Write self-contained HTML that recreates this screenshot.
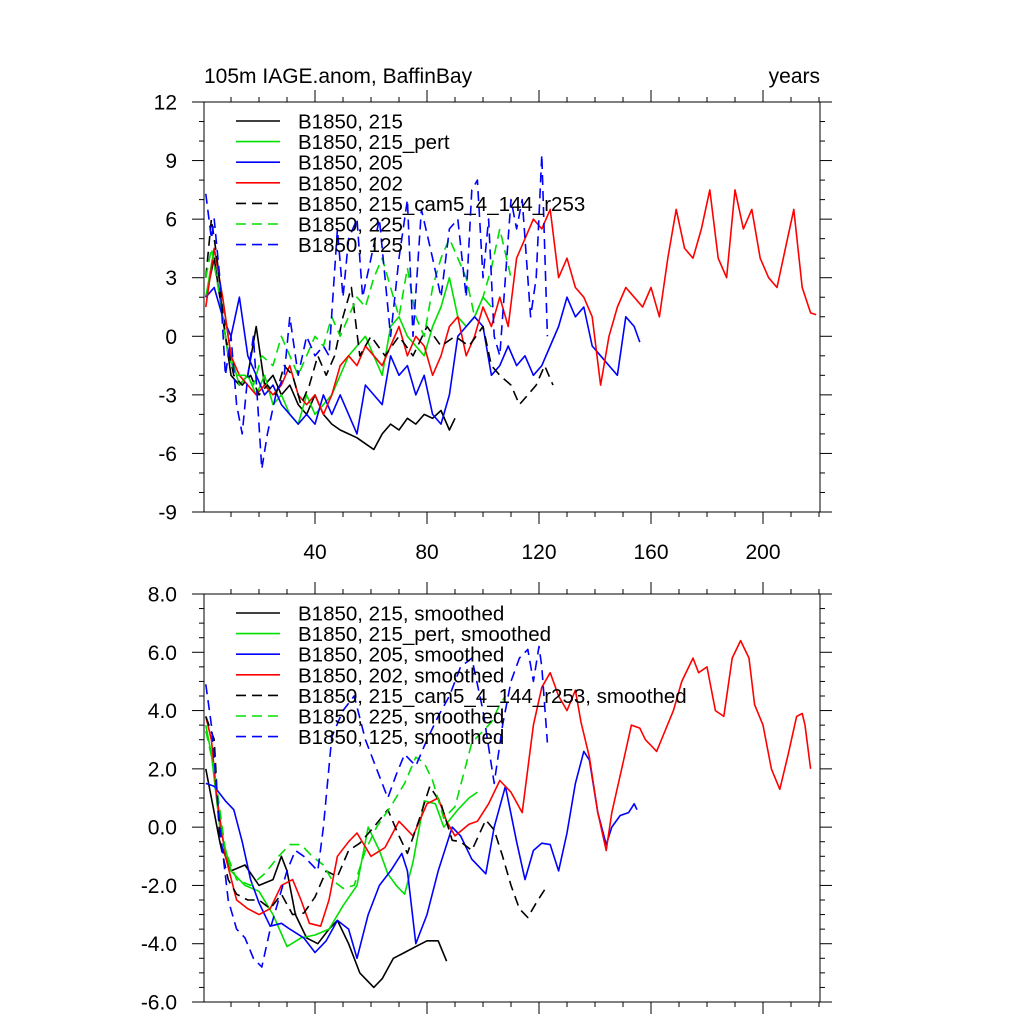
<!DOCTYPE html>
<html><head><meta charset="utf-8"><style>
html,body{margin:0;padding:0;background:#fff;}
svg{display:block;font-family:"Liberation Sans",sans-serif;}
</style></head><body>
<svg id="chart" width="1024" height="1024" viewBox="0 0 1024 1024" xmlns="http://www.w3.org/2000/svg">
<text x="204" y="83" font-size="21">105m IAGE.anom, BaffinBay</text>
<text x="820" y="83" font-size="21" text-anchor="end">years</text>
</svg>
<script>
// ---- top panel data ----
const topBlackYears=[1,4,7,10,13,16,19,22,25,28,31,34,37,40,43,46,49,52,55,58,61,64,67,70,73,76,79,82,85,88,90];
const topBlackVals=[2,4,1,-2,-2.5,-2,0.5,-2.5,-2,-3,-2.5,-3.5,-4,-3,-4,-4.5,-4.8,-5,-5.2,-5.5,-5.8,-5,-4.5,-4.8,-4.2,-4.5,-4,-4.2,-3.8,-4.8,-4.2];
const topGreenYears=[1,4,7,10,13,16,19,22,25,28,31,34,37,40,43,46,49,52,55,58,61,64,67,70,73,76,79,82,85,88,91,94,97,100,103];
const topGreenVals=[2,4.5,2,-1,-2.5,-2,-3,-2,-3.5,-3,-4,-4.5,-3,-4,-3.5,-3,-2,-1,-0.5,0,-1,-2,0.5,1,0,-0.5,-1,0.5,1.5,3,1,0.5,1,2,1.5];
const topBlueYears=[1,4,7,10,13,16,19,22,25,28,31,34,37,40,43,46,49,52,55,58,61,64,67,70,73,76,79,82,85,88,91,94,97,100,103,106,109,112,115,118,121,124,127,130,133,136,139,142,145,148,151,154,156];
const topBlueVals=[2,2.5,1,0,2,-1,-2,-3,-2.5,-3.5,-4,-4.5,-4,-4.5,-3,-4,-3,-4,-5,-2.5,-3,-3.5,-1,-2,-1.5,-3,-2,-4,-4.5,-3,0,0.5,1,0.5,-2,-1.5,-0.5,-1.5,-1,-2,-1.5,-0.5,0.5,2,1,1.5,-0.5,-1,-1.5,-2,1,0.5,-0.3];
const topRedYears=[1,4,7,10,13,16,19,22,25,28,31,34,37,40,43,46,49,52,55,58,61,64,67,70,73,76,79,82,85,88,91,94,97,100,103,106,109,112,115,118,121,124,127,130,133,136,139,142,145,148,151,154,157,160,163,166,169,172,175,178,181,184,187,190,193,196,199,202,205,208,211,214,217,219];
const topRedVals=[1.5,4.5,2,-1,-2,-2.5,-3,-2.5,-3,-2.5,-1.5,-3,-3.5,-3,-4,-3,-1.5,-1,-1.5,-0.5,-1,-1.5,-0.5,0.5,-1,0,-0.5,-2,-1,0.5,1,-1,0,1.5,0.5,2,0.5,4,5,6,5.5,6.5,3,4,2.5,2,1,-2.5,0,1.5,2.5,2,1.5,2.5,1,4,6.5,4.5,4,5.5,7.5,4,3,7.5,5.5,6.5,4,3,2.5,4.5,6.5,2.5,1.2,1.1];
const topBlackDashYears=[1,3,5,8,11,14,17,20,23,26,29,32,35,38,41,44,47,50,53,56,60,65,70,75,80,85,90,95,100,103,106,110,113,116,119,122,125];
const topBlackDashVals=[3,6,4,0,-2,-2.5,-2,-3,-2.5,-3,-1.5,-2,-3.5,-2.5,-1,-2,-1,1,2.5,-1,0,-1,0,-1,0.5,-0.5,0,-0.5,0.5,-1.5,-2,-2.5,-3.5,-3,-2.5,-1.5,-2.5];
const topGreenDashYears=[1,3,6,9,12,15,18,21,25,28,31,34,37,40,43,46,49,52,55,58,61,64,67,70,73,76,79,82,85,88,91,94,97,100,103,106,110];
const topGreenDashVals=[3,4.5,2,-1,-2,-2,-2.5,-1,-1.5,0,-1,-2,-1,0,-0.5,1,0,1,2,1.5,3,4,2.5,1,3.5,1,0,2.5,4,5,4,3,1,2,3.5,5.5,3];
const topBlueDashYears=[1,3,4,6,8,10,12,14,16,18,21,23,26,29,31,34,37,40,43,45,48,50,52,55,57,60,63,65,67,70,73,75,78,82,85,88,91,94,96,98,100,102,104,106,108,110,112,114,117,119,121,123];
const topBlueDashVals=[7.3,5,6,3,-2,0,-3.5,-5,-2,0,-6.8,-5,-3,-2,1,-2,0,-1,-0.5,-1,5.5,2,5,6,2,4,6,3,0,4,7,0,6.5,4,2,5.5,6,2,7.5,8,3,6,0,-1,3,7,5.5,7,1,3,9.3,0];
// ---- bottom panel data (smoothed) ----
const botBlackYears=[1,3,6,10,15,20,25,28,30,33,37,41,45,48,52,56,61,64,68,72,76,80,84,87];
const botBlackVals=[2.0,1.0,-0.5,-1.5,-1.3,-2.0,-1.8,-1.0,-1.5,-3.0,-3.8,-4.0,-3.5,-3.2,-4.0,-5.0,-5.5,-5.2,-4.5,-4.3,-4.1,-3.9,-3.9,-4.6];
const botGreenYears=[1,3,6,10,15,20,25,30,35,40,45,50,55,59,63,66,69,72,75,79,83,86,91,95,98];
const botGreenVals=[3.5,2.5,0,-1.5,-2.0,-2.2,-3.0,-4.1,-3.8,-3.7,-3.5,-2.7,-2.0,0,-0.8,-1.6,-2.0,-2.3,-1.2,0.9,0.8,0,0.6,1.0,1.2];
const botBlueYears=[1,4,8,11,14,17,20,24,28,31,36,40,44,48,52,55,59,63,67,71,73,76,80,84,89,92,96,101,104,108,112,115,118,121,124,127,130,133,136,138,141,144,146,149,152,154,155];
const botBlueVals=[1.5,1.4,0.9,0.6,-0.5,-1.8,-2.6,-3.4,-3.3,-3.5,-3.8,-4.3,-3.9,-3.2,-3.5,-4.5,-3.0,-2.0,-1.5,-0.9,-1.5,-4.0,-3.0,-1.5,0,-0.3,-1.1,-1.6,0,1.4,-0.5,-1.8,-0.8,-0.55,-0.6,-1.5,-0.2,1.5,2.6,2.3,0.5,-0.6,0,0.4,0.5,0.8,0.6];
const botRedYears=[1,3,5,8,12,16,20,24,28,32,35,38,42,45,48,52,55,60,65,70,75,80,84,87,90,95,98,102,106,110,114,118,121,124,127,130,133,135,138,141,144,146,150,153,156,158,160,162,165,168,171,175,177,180,183,186,189,192,195,197,200,203,206,209,212,214,215,217];
const botRedVals=[3.8,3,1,-1,-2.5,-2.8,-3,-2.8,-2.0,-1.8,-2.5,-3.3,-3.4,-2.5,-1.0,-0.5,-0.2,-1.0,-0.7,0.2,-0.3,0.8,1.0,0.2,-0.3,0.1,0.2,0.8,1.6,1.2,0.5,3.5,4.8,5.3,4.5,4.0,4.7,3.6,2.4,0.5,-0.8,0.5,2.2,3.5,3.4,3.0,2.8,2.6,3.3,4.0,5.0,5.8,5.3,5.5,4.0,3.8,5.8,6.4,5.8,4.2,3.5,2.0,1.3,2.5,3.8,3.9,3.5,2.0];
const botBlackDashYears=[1,4,6,9,12,16,20,24,28,32,36,40,44,48,52,56,61,66,70,73,77,81,85,89,92,96,101,104,107,110,113,116,119,123];
const botBlackDashVals=[3.8,3.0,-0.5,-1.8,-2.3,-2.5,-2.5,-2.8,-2.3,-3.0,-2.95,-2.4,-1.5,-1.7,-0.8,-0.55,0,0.6,-0.3,-0.9,0.2,1.4,0.8,-0.45,-0.5,-0.8,0.25,-0.1,-1.0,-2.0,-2.8,-3.1,-2.6,-2.0];
const botGreenDashYears=[1,4,8,12,17,22,27,31,35,39,43,46,50,54,58,62,67,72,76,79,82,86,90,93,96,100,103,106,108];
const botGreenDashVals=[3.3,2,-0.8,-1.8,-2.0,-1.6,-1.0,-0.6,-0.6,-1,-1.3,-1.8,-2.1,-2,-0.8,0,0.7,1.5,2.4,2.2,1.6,0.3,0.7,1.8,2.9,3.3,3.6,4.2,4.5];
const botBlueDashYears=[1,3,6,9,12,15,18,21,24,27,30,33,36,41,43,46,50,54,58,62,66,69,72,76,80,84,88,92,96,100,104,107,110,113,116,118,120,121,123];
const botBlueDashVals=[4.9,3.5,0,-2.5,-3.5,-3.8,-4.5,-4.8,-3.5,-2.5,-1.5,-0.8,-1.0,-1.5,0,3.1,4.0,4.5,3.0,2.0,1.0,1.8,2.5,2.1,3.0,3.8,4.5,5.5,5.8,4.0,1.5,3.5,5.0,5.8,6.1,5.0,6.2,5.5,2.9];

const NS='http://www.w3.org/2000/svg';
const svg=document.getElementById('chart');
const X0=203,XS=2.8,XL=204,XR=820;
function xs(yr){return X0+XS*yr;}
function mk(tag,attrs,parent){const e=document.createElementNS(NS,tag);for(const k in attrs)e.setAttribute(k,attrs[k]);(parent||svg).appendChild(e);return e;}

function panel(p){
  const g=mk('g',{});
  
  
  const ys=v=>p.top+(p.ymax-v)*(p.bot-p.top)/(p.ymax-p.ymin);
  p.series.forEach(s=>{
    const d=s.yrs.map((yr,i)=>(i?'L':'M')+xs(yr).toFixed(1)+','+ys(s.vals[i]).toFixed(1)).join('');
    const path=mk('path',{d:d,fill:'none',stroke:s.c,'stroke-width':1.6,'stroke-linejoin':'round'},g);
    if(s.dash)path.setAttribute('stroke-dasharray','10,6');
    
    
  });
  const fr=mk('rect',{x:XL,y:p.top,width:XR-XL,height:p.bot-p.top,fill:'none',stroke:'#000','stroke-width':1},g);
  
  
  for(let yr=0;yr<=220;yr+=10){
    const x=xs(yr); if(x<XL||x>XR)continue;
    const L=(yr%40===0)?12:5;
    mk('line',{x1:x,y1:p.bot,x2:x,y2:p.bot+L,stroke:'#000'},g);
    mk('line',{x1:x,y1:p.top,x2:x,y2:p.top-L,stroke:'#000'},g);
    if(yr%40===0 && yr>0 && p.xlabels){
      const t=mk('text',{x:x,y:p.bot+47,'font-size':21,'text-anchor':'middle'},g);
      t.textContent=yr;
      
      
    }
  }
  for(let v=p.ymin;v<=p.ymax+1e-9;v+=p.minor){
    const y=ys(v);
    const maj=Math.abs(v/p.major-Math.round(v/p.major))<1e-6;
    const L=maj?12:5;
    mk('line',{x1:XL,y1:y,x2:XL-L,y2:y,stroke:'#000'},g);
    mk('line',{x1:XR,y1:y,x2:XR+L,y2:y,stroke:'#000'},g);
    if(maj){
      const t=mk('text',{x:177,y:y+7.5,'font-size':21,'text-anchor':'end'},g);
      t.textContent=v.toFixed(p.dec);
      
      
    }
  }
  p.series.forEach((s,i)=>{
    const y=p.legTop+i*20.6;
    const ln=mk('line',{x1:236,y1:y,x2:280,y2:y,stroke:s.c,'stroke-width':1.6},g);
    if(s.dash)ln.setAttribute('stroke-dasharray','10,6');
    
    
    const t=mk('text',{x:298,y:y+7.5,'font-size':20.5},g);
    t.textContent=s.label;
    
    
  });
}
const names=['B1850, 215','B1850, 215_pert','B1850, 205','B1850, 202','B1850, 215_cam5_4_144_r253','B1850, 225','B1850, 125'];
panel({name:'top-panel',top:102,bot:512,ymin:-9,ymax:12,major:3,minor:1,dec:0,xlabels:true,legTop:121,
 series:[
  {id:'series-215',c:'#000',yrs:topBlackYears,vals:topBlackVals,label:names[0]},
  {id:'series-215-pert',c:'#00e000',yrs:topGreenYears,vals:topGreenVals,label:names[1]},
  {id:'series-205',c:'#0000ff',yrs:topBlueYears,vals:topBlueVals,label:names[2]},
  {id:'series-202',c:'#ff0000',yrs:topRedYears,vals:topRedVals,label:names[3]},
  {id:'series-215-cam5',c:'#000',dash:1,yrs:topBlackDashYears,vals:topBlackDashVals,label:names[4]},
  {id:'series-225',c:'#00e000',dash:1,yrs:topGreenDashYears,vals:topGreenDashVals,label:names[5]},
  {id:'series-125',c:'#0000ff',dash:1,yrs:topBlueDashYears,vals:topBlueDashVals,label:names[6]}
 ]});
panel({name:'bottom-panel',top:594,bot:1002,ymin:-6,ymax:8,major:2,minor:0.5,dec:1,xlabels:false,legTop:613,
 series:[
  {id:'smoothed-215',c:'#000',yrs:botBlackYears,vals:botBlackVals,label:names[0]+', smoothed'},
  {id:'smoothed-215-pert',c:'#00e000',yrs:botGreenYears,vals:botGreenVals,label:names[1]+', smoothed'},
  {id:'smoothed-205',c:'#0000ff',yrs:botBlueYears,vals:botBlueVals,label:names[2]+', smoothed'},
  {id:'smoothed-202',c:'#ff0000',yrs:botRedYears,vals:botRedVals,label:names[3]+', smoothed'},
  {id:'smoothed-215-cam5',c:'#000',dash:1,yrs:botBlackDashYears,vals:botBlackDashVals,label:names[4]+', smoothed'},
  {id:'smoothed-225',c:'#00e000',dash:1,yrs:botGreenDashYears,vals:botGreenDashVals,label:names[5]+', smoothed'},
  {id:'smoothed-125',c:'#0000ff',dash:1,yrs:botBlueDashYears,vals:botBlueDashVals,label:names[6]+', smoothed'}
 ]});
</script>
</body></html>
